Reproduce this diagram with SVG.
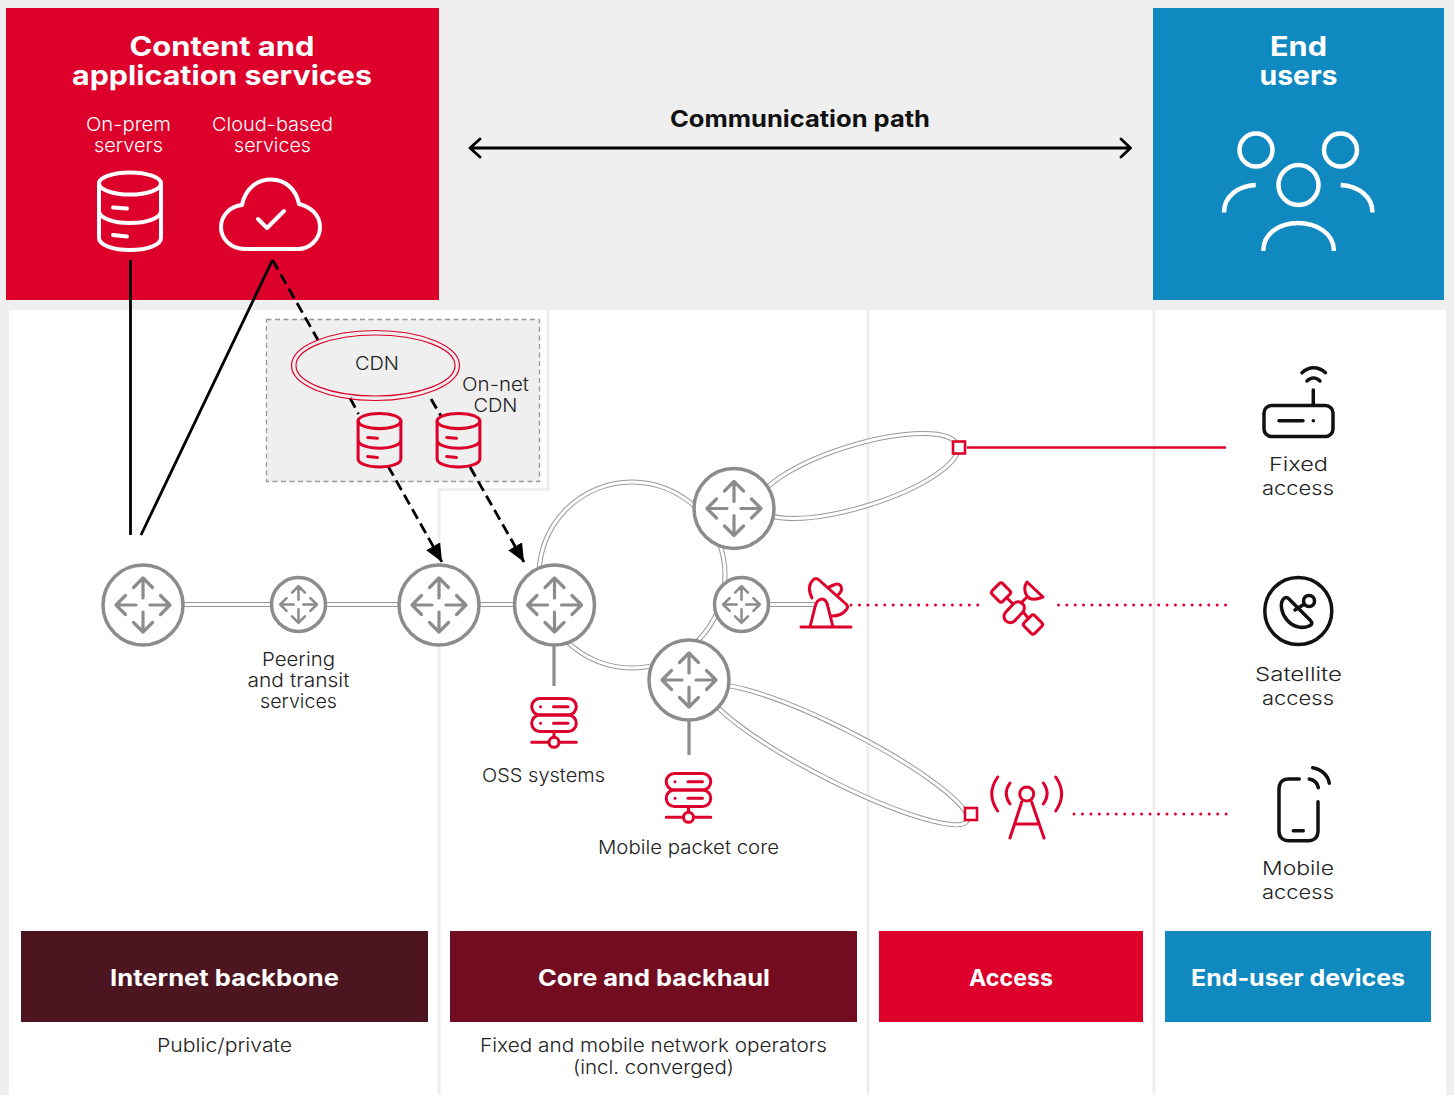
<svg xmlns="http://www.w3.org/2000/svg" width="1454" height="1095" viewBox="0 0 1454 1095">
<style>
text{font-family:Inter,"Liberation Sans",sans-serif;text-anchor:middle}
.h{font-weight:700;font-size:27px;fill:#fff}
.b{font-weight:700;font-size:23px;fill:#fff}
.c{font-weight:700;font-size:23px;fill:#111}
.t{font-weight:350;font-size:19px;fill:#222}
.w{font-weight:300;font-size:19px;fill:#fff}
.sep{fill:none;stroke:#eeeeee;stroke-width:3}
.o{fill:none;stroke:#999;stroke-width:5}
.i{fill:none;stroke:#fff;stroke-width:3}
.ro{fill:none;stroke:#dd002b;stroke-width:1.2}
.rn{fill:#fff;stroke:#8c8c8c;stroke-width:3.5}
.ar{fill:none;stroke:#8c8c8c;stroke-linecap:round;stroke-linejoin:round}
.rd{fill:none;stroke:#dd002b;stroke-width:3;stroke-linecap:round;stroke-linejoin:round}
.wh{fill:none;stroke:#fff;stroke-width:4;stroke-linecap:round;stroke-linejoin:round}
.bk{fill:none;stroke:#111;stroke-width:3.5;stroke-linecap:round;stroke-linejoin:round}
.ln{fill:none;stroke:#000;stroke-width:2.8}
.da{fill:none;stroke:#000;stroke-width:2.8;stroke-dasharray:11 5.500}
.dot{fill:none;stroke:#dd002b;stroke-width:3;stroke-linecap:round;stroke-dasharray:0 8.450}
.st{fill:none;stroke:#8c8c8c;stroke-width:3.2}
</style>
<defs>
<marker id="tri" markerUnits="userSpaceOnUse" markerWidth="20" markerHeight="18" refX="18" refY="8" orient="auto"><path d="M0 0L18 8L0 16Z" fill="#000"/></marker>
<g id="arrows" class="ar">
<path d="M0-7V-27M-9.500-17.500L0-27L9.500-17.500M0 7V27M-9.500 17.500L0 27L9.500 17.500M-7 0H-27M-17.500-9.500L-27 0L-17.500 9.500M7 0H27M17.500-9.500L27 0L17.500 9.500"/>
</g>
<g id="db">
<ellipse cx="0" cy="-27.500" rx="31" ry="11"/>
<path d="M-31-27.500V27C-31 34 -17 39 0 39S31 34 31 27V-27.500M-31 0C-31 7 -17 12 0 12S31 7 31 0M-17-3.500L-3-2.500M-17 24L-3 25.500"/>
</g>
<g id="srv">
<rect x="531.700" y="698.500" width="44.600" height="16.500" rx="8.200"/>
<rect x="531.700" y="715" width="44.600" height="16.500" rx="8.200"/>
<path d="M554 731.500V737M531.700 742.300H549M559 742.300H576.300M553.500 706.700H568M553.500 723.300H568M540.500 706.700h.1M540.500 723.300h.1"/>
<circle cx="554" cy="742.300" r="5"/>
</g>
</defs>

<rect width="1454" height="1095" fill="#efefef"/>
<rect x="9" y="310" width="1437" height="785" fill="#fff"/>
<path class="sep" d="M548 310V489.500H439V1095M868 310V1095M1154 310V1095"/>

<g id="panel-content">
<rect x="6" y="8" width="433" height="292" fill="#dd002b"/>
<text class="h" x="222" y="56" textLength="185" lengthAdjust="spacingAndGlyphs">Content and</text>
<text class="h" x="222" y="85" textLength="300" lengthAdjust="spacingAndGlyphs">application services</text>
<text class="w" x="128.500" y="131" textLength="85" lengthAdjust="spacingAndGlyphs">On-prem</text>
<text class="w" x="128.500" y="152" textLength="69" lengthAdjust="spacingAndGlyphs">servers</text>
<text class="w" x="272.500" y="131" textLength="121" lengthAdjust="spacingAndGlyphs">Cloud-based</text>
<text class="w" x="272.500" y="152" textLength="77" lengthAdjust="spacingAndGlyphs">services</text>
</g>
<g id="panel-users">
<rect x="1153" y="8" width="291" height="292" fill="#1088c0"/>
<text class="h" x="1298.500" y="56" textLength="57" lengthAdjust="spacingAndGlyphs">End</text>
<text class="h" x="1298.500" y="85" textLength="78" lengthAdjust="spacingAndGlyphs">users</text>
</g>
<g id="icon-onprem" class="wh"><use href="#db" transform="translate(130 211)"/></g>
<g id="icon-cloud" class="wh">
<path d="M245 249C231 249 221 239 221 227C221 215 231 206 242 205C245 189 257 179.500 271 179.500C285 179.500 296 189 299 204C311 207 320 215 320 227C320 239 310 249 298 249Z"/>
<path d="M258 219L267 228L284 211"/>
</g>
<g id="icon-users" class="wh" style="stroke-linecap:butt;stroke-width:4.500">
<circle cx="1256" cy="150" r="16.500"/>
<circle cx="1340.500" cy="150" r="16.500"/>
<circle cx="1298.500" cy="185" r="20"/>
<path d="M1255.700 185C1238 186 1224 196 1224 212.500M1340.700 185C1358 186 1372.500 196 1372.500 212.500M1263.300 251C1263.300 233 1280 223 1298 223C1316 223 1334 233 1334 251"/>
</g>

<g id="comm-path">
<text class="c" x="800" y="127" textLength="260" lengthAdjust="spacingAndGlyphs">Communication path</text>
<path class="ln" stroke-linecap="round" stroke-linejoin="round" d="M470 148H1130M480 139L470 148L480 157M1121 139L1130.500 148L1121 157"/>
</g>

<g id="cdn-panel">
<rect x="266.500" y="319.500" width="273" height="162" fill="#efefef" stroke="#999" stroke-width="1.300" stroke-dasharray="5 3.500"/>
</g>

<g id="connectors">
<circle class="o" cx="632" cy="575" r="93"/><circle class="i" cx="632" cy="575" r="93"/>
<ellipse class="o" cx="858" cy="476" rx="104" ry="31" transform="rotate(-17 858 476)"/><ellipse class="i" cx="858" cy="476" rx="104" ry="31" transform="rotate(-17 858 476)"/>
<ellipse class="o" cx="838" cy="755" rx="145" ry="26" transform="rotate(27 838 755)"/><ellipse class="i" cx="838" cy="755" rx="145" ry="26" transform="rotate(27 838 755)"/>
<path class="o" d="M184 604.500H520M760 604.500H815"/><path class="i" d="M184 604.500H520M760 604.500H815"/>
<path class="st" d="M554 645V686M689 720V755"/>
<path class="ln" d="M130.500 260V535M272.500 260L141 535"/>
<path class="da" d="M272.500 260L318 340M350 398L358.500 414M431 399L441 416"/>
<path class="da" marker-end="url(#tri)" d="M388 466L442 562"/>
<path class="da" marker-end="url(#tri)" d="M470 467L524 562"/>
<path d="M967 447.500H1226" fill="none" stroke="#dd002b" stroke-width="2.600"/>
<path class="dot" d="M851 605H979"/>
<path class="dot" d="M1058.500 605H1227" style="stroke-dasharray:0 8.350"/>
<path class="dot" d="M1074 814H1227"/>
</g>

<g id="cdn"><ellipse cx="375.500" cy="365.500" rx="84" ry="35" class="ro"/><ellipse cx="375.500" cy="365.500" rx="79.500" ry="30.500" class="ro"/>
<text class="t" x="377" y="370" textLength="44" lengthAdjust="spacingAndGlyphs">CDN</text>
<text class="t" x="495.500" y="391" textLength="67" lengthAdjust="spacingAndGlyphs">On-net</text>
<text class="t" x="495.500" y="412" textLength="44" lengthAdjust="spacingAndGlyphs">CDN</text></g>
<g id="cdn-db1" class="rd"><use href="#db" transform="translate(379.500 440) scale(.69)" style="stroke-width:4.400"/></g>
<g id="cdn-db2" class="rd"><use href="#db" transform="translate(458.500 440) scale(.69)" style="stroke-width:4.400"/></g>

<g id="router-1"><circle class="rn" cx="143" cy="605" r="40"/><use href="#arrows" transform="translate(143 605)" stroke-width="3.200"/></g>
<g id="router-2"><circle class="rn" cx="298.500" cy="604.500" r="27"/><use href="#arrows" transform="translate(298.500 604.500) scale(.68)" stroke-width="3.700"/></g>
<g id="router-3"><circle class="rn" cx="439" cy="605" r="40"/><use href="#arrows" transform="translate(439 605)" stroke-width="3.200"/></g>
<g id="router-4"><circle class="rn" cx="554.500" cy="605" r="40"/><use href="#arrows" transform="translate(554.500 605)" stroke-width="3.200"/></g>
<g id="router-5"><circle class="rn" cx="734" cy="508.500" r="40"/><use href="#arrows" transform="translate(734 508.500)" stroke-width="3.200"/></g>
<g id="router-6"><circle class="rn" cx="741.500" cy="604.500" r="27"/><use href="#arrows" transform="translate(741.500 604.500) scale(.68)" stroke-width="3.700"/></g>
<g id="router-7"><circle class="rn" cx="689" cy="680" r="40"/><use href="#arrows" transform="translate(689 680)" stroke-width="3.200"/></g>

<g id="label-peering">
<text class="t" x="298.500" y="666" textLength="73" lengthAdjust="spacingAndGlyphs">Peering</text>
<text class="t" x="298.500" y="687" textLength="102" lengthAdjust="spacingAndGlyphs">and transit</text>
<text class="t" x="298.500" y="708" textLength="77" lengthAdjust="spacingAndGlyphs">services</text>
</g>
<g id="oss" class="rd"><use href="#srv"/><text class="t" style="stroke:none" x="543.500" y="782" textLength="123" lengthAdjust="spacingAndGlyphs">OSS systems</text></g>
<g id="packet-core" class="rd"><use href="#srv" transform="translate(134.500 75)"/><text class="t" style="stroke:none" x="688.500" y="854" textLength="181" lengthAdjust="spacingAndGlyphs">Mobile packet core</text></g>

<g id="access-node-1"><rect x="953" y="441.500" width="12" height="12" fill="#fff" stroke="#dd002b" stroke-width="2.600"/></g>
<g id="access-node-2"><rect x="965" y="808" width="12" height="12" fill="#fff" stroke="#dd002b" stroke-width="2.600"/></g>

<g id="dish" class="rd">
<path d="M801 627H851M810 627L815 607C816 602 819 599 822 599C825 599 827 602 828 607L833 627"/>
<path d="M812 598C808 590 809 584 813 580C815 578 817 578 819 580L846 604C848 606 848 608 846 610C843 614 838 616 832 616"/>
<path d="M829 587L835 584.500C838 583 841 585 841.500 588C842 590 841 592 838 595"/>
</g>
<g id="satellite" class="rd">
<rect x="993.500" y="585" width="15" height="15" rx="2.500" transform="rotate(45 1001 592.500)"/>
<rect x="1025.500" y="617" width="15" height="15" rx="2.500" transform="rotate(45 1033 624.500)"/>
<rect x="1002" y="606" width="24" height="12.500" rx="6.200" transform="rotate(-47 1014 612)"/>
<path d="M1007 598L1012 603M1024 613L1028 618M1021 603L1027 597M1027 582L1043 597C1036 600 1030 600 1027 596C1024 592 1024 586 1027 582Z"/>
</g>
<g id="tower" class="rd">
<circle cx="1026.700" cy="794" r="7"/>
<path d="M1021.700 802L1010 838M1031.700 802L1044 838M1015 824H1038"/>
<path d="M997.700 777C990 788 990 800 997.700 811M1010 783C1005 790 1005 797 1010 804M1055.700 777C1063.400 788 1063.400 800 1055.700 811M1043.400 783C1048.400 790 1048.400 797 1043.400 804"/>
</g>

<g id="fixed-access" class="bk">
<rect x="1264" y="405.500" width="69" height="31" rx="7.500"/>
<path d="M1313.300 390V405M1302 372.700C1309 366 1318 366 1325.500 372.700M1307 381C1311 377 1316 377 1320 381M1279 420.700H1303M1313.300 420.700h.1"/>
<text class="t" style="stroke:none" x="1298.500" y="471" textLength="59" lengthAdjust="spacingAndGlyphs">Fixed</text>
<text class="t" style="stroke:none" x="1298" y="495" textLength="72" lengthAdjust="spacingAndGlyphs">access</text>
</g>
<g id="satellite-access" class="bk">
<circle cx="1298.300" cy="611" r="33.500"/>
<path d="M1283 599.500C1285 597 1287 597 1289 599L1310 620C1313 623 1312 625 1309 626C1302 629 1293 627 1287 620C1281 613 1280 604 1283 599.500ZM1295 610L1304.500 604"/>
<circle cx="1309" cy="601" r="5.500"/>
<text class="t" style="stroke:none" x="1298.500" y="681" textLength="87" lengthAdjust="spacingAndGlyphs">Satellite</text>
<text class="t" style="stroke:none" x="1298" y="705" textLength="72" lengthAdjust="spacingAndGlyphs">access</text>
</g>
<g id="mobile-access" class="bk">
<path d="M1299.300 779H1288.500C1282.500 779 1279 783 1279 789V831C1279 837 1282.500 840.700 1288.500 840.700H1308.500C1314.500 840.700 1318 837 1318 831V801.700M1293.300 830.700H1303.300M1309.300 779C1314 780 1317.500 783 1318.300 787.700M1312.700 767.700C1321 769 1328 775 1329.300 783.300"/>
<text class="t" style="stroke:none" x="1298" y="875" textLength="72" lengthAdjust="spacingAndGlyphs">Mobile</text>
<text class="t" style="stroke:none" x="1298" y="899" textLength="72" lengthAdjust="spacingAndGlyphs">access</text>
</g>

<g id="bar-backbone">
<rect x="21" y="931" width="407" height="91" fill="#4d1520"/>
<text class="b" x="224.500" y="986" textLength="229" lengthAdjust="spacingAndGlyphs">Internet backbone</text>
<text class="t" x="224.500" y="1052" textLength="135" lengthAdjust="spacingAndGlyphs">Public/private</text>
</g>
<g id="bar-core">
<rect x="450" y="931" width="407" height="91" fill="#730c20"/>
<text class="b" x="654" y="986" textLength="232" lengthAdjust="spacingAndGlyphs">Core and backhaul</text>
<text class="t" x="653.500" y="1052" textLength="347" lengthAdjust="spacingAndGlyphs">Fixed and mobile network operators</text>
<text class="t" x="653.500" y="1074" textLength="161" lengthAdjust="spacingAndGlyphs">(incl. converged)</text>
</g>
<g id="bar-access">
<rect x="879" y="931" width="264" height="91" fill="#dd002b"/>
<text class="b" x="1011" y="986" textLength="84" lengthAdjust="spacingAndGlyphs">Access</text>
</g>
<g id="bar-devices">
<rect x="1165" y="931" width="266" height="91" fill="#1088c0"/>
<text class="b" x="1298" y="986" textLength="214" lengthAdjust="spacingAndGlyphs">End-user devices</text>
</g>
</svg>
